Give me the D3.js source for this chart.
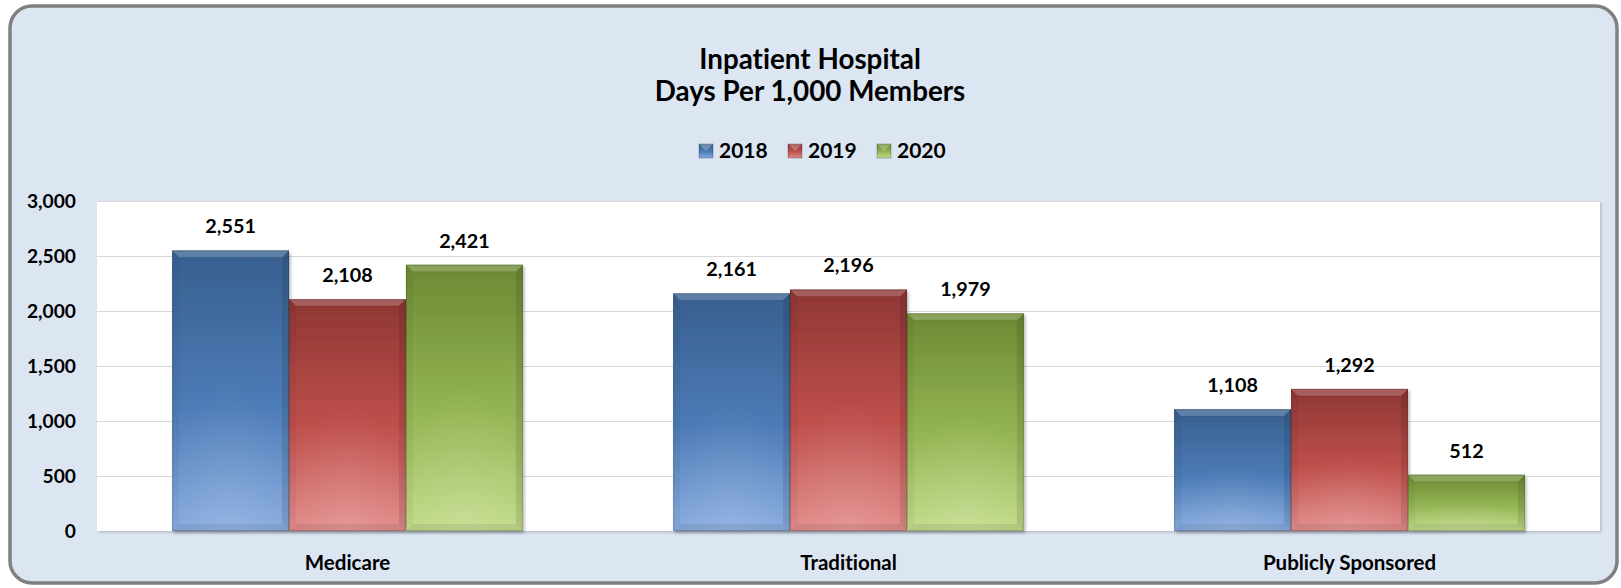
<!DOCTYPE html>
<html>
<head>
<meta charset="utf-8">
<script src="https://cdn.jsdelivr.net/npm/d3@7"></script>
<style>
  html, body { margin: 0; padding: 0; background: #ffffff; }
  svg { display: block; }
  text { font-family: Lato, "Open Sans", sans-serif; font-weight: 700; fill: #000;
         font-variant-ligatures: none; font-feature-settings: "liga" 0, "clig" 0; }
</style>
</head>
<body>
<svg id="chart" width="1621" height="588"></svg>
<script>
// Inpatient hospital days per 1,000 members, by line of business and year
const categories = ["Medicare", "Traditional", "Publicly Sponsored"];
const years = ["2018", "2019", "2020"];
const values2018 = [2551, 2161, 1108];
const values2019 = [2108, 2196, 1292];
const values2020 = [2421, 1979, 512];
const yTicks = [0, 500, 1000, 1500, 2000, 2500, 3000];
const titleLines = ["Inpatient Hospital", "Days Per 1,000 Members"];

const seriesValues = [values2018, values2019, values2020];

// colour ramps (top, middle, bottom) for each year's bars
const palette = {
  "2018": ["#385f8f", "#4c7bb6", "#88ace0"],
  "2019": ["#8e3634", "#bf504d", "#e28c8a"],
  "2020": ["#6c8a33", "#94b554", "#c3dc8a"]
};

const W = 1621, H = 588;
const plot = { left: 97, right: 1600, top: 201, bottom: 531 };

const svg = d3.select("#chart");
const defs = svg.append("defs");

// per-bar vertical gradients and bottom glow
years.forEach(yr => {
  const c = palette[yr];
  const g = defs.append("linearGradient")
    .attr("id", "grad" + yr).attr("x1", 0).attr("y1", 0).attr("x2", 0).attr("y2", 1);
  g.append("stop").attr("offset", "0%").attr("stop-color", c[0]);
  g.append("stop").attr("offset", "55%").attr("stop-color", c[1]);
  g.append("stop").attr("offset", "100%").attr("stop-color", c[2]);
});
const glow = defs.append("radialGradient").attr("id", "glow")
  .attr("cx", "50%").attr("cy", "100%").attr("r", "55%");
glow.append("stop").attr("offset", "0%").attr("stop-color", "#fff").attr("stop-opacity", 0.12);
glow.append("stop").attr("offset", "100%").attr("stop-color", "#fff").attr("stop-opacity", 0);

const shadow = defs.append("filter").attr("id", "shadow")
  .attr("x", "-5%").attr("y", "-5%").attr("width", "115%").attr("height", "115%");
shadow.append("feDropShadow").attr("dx", 1.5).attr("dy", 2).attr("stdDeviation", 1.5)
  .attr("flood-color", "#000").attr("flood-opacity", 0.3);

const plotShadow = defs.append("filter").attr("id", "plotShadow")
  .attr("x", "-2%").attr("y", "-2%").attr("width", "104%").attr("height", "106%");
plotShadow.append("feDropShadow").attr("dx", 1.5).attr("dy", 1.5).attr("stdDeviation", 1)
  .attr("flood-color", "#000").attr("flood-opacity", 0.18);

// chart frame
svg.append("rect")
  .attr("x", 10).attr("y", 6).attr("width", 1607).attr("height", 577)
  .attr("rx", 22).attr("ry", 22)
  .attr("fill", "#dce6f2").attr("stroke", "#808080").attr("stroke-width", 3.5);

// title
svg.append("text").attr("x", 810).attr("y", 69).attr("text-anchor", "middle")
  .style("font-size", "27.8px").text(titleLines[0]);
svg.append("text").attr("x", 810).attr("y", 101).attr("text-anchor", "middle")
  .style("font-size", "27.8px").text(titleLines[1]);

// scales
const x0 = d3.scaleBand().domain(categories).range([plot.left, plot.right])
  .paddingInner(0.3).paddingOuter(0.15);
const x1 = d3.scaleBand().domain(years).range([0, x0.bandwidth()]).padding(0);
const y = d3.scaleLinear().domain([0, 3000]).range([plot.bottom, plot.top]);

// plot area
svg.append("rect")
  .attr("x", plot.left).attr("y", plot.top)
  .attr("width", plot.right - plot.left).attr("height", plot.bottom - plot.top)
  .attr("fill", "#ffffff").attr("filter", "url(#plotShadow)");

// gridlines
svg.append("g").selectAll("line").data(yTicks.filter(t => t > 0)).join("line")
  .attr("x1", plot.left).attr("x2", plot.right)
  .attr("y1", d => Math.round(y(d)) + 0.5).attr("y2", d => Math.round(y(d)) + 0.5)
  .attr("stroke", "#d9d9d9").attr("stroke-width", 1.2);

// y axis labels
const yAxis = d3.axisLeft(y).tickValues(yTicks).tickFormat(d3.format(",")).tickSize(0).tickPadding(0);
const yg = svg.append("g").attr("transform", `translate(${plot.left - 21},0)`).call(yAxis);
yg.select(".domain").remove();
yg.selectAll("text")
  .style("font-family", "Lato, 'Open Sans', sans-serif").style("font-weight", 700)
  .style("font-size", "19.2px").attr("fill", "#000").attr("dy", "0.35em");

// bars
const bars = [];
categories.forEach((cat, ci) => {
  years.forEach((yr, si) => {
    bars.push({ cat, yr, value: seriesValues[si][ci] });
  });
});

const barG = svg.append("g");
const bevel = 7;
barG.selectAll("g.bar").data(bars).join("g").attr("class", "bar")
  .each(function (d) {
    const g = d3.select(this);
    const bx = x0(d.cat) + x1(d.yr);
    const bw = x1.bandwidth();
    const by = y(d.value);
    const bh = y(0) - by;
    const xl = bx, xr = bx + bw, yt = by, yb = by + bh;
    g.append("rect").attr("x", xl).attr("y", yt).attr("width", bw).attr("height", bh)
      .attr("fill", `url(#grad${d.yr})`).attr("filter", "url(#shadow)");
    g.append("rect").attr("x", xl).attr("y", yt).attr("width", bw).attr("height", bh)
      .attr("fill", "url(#glow)");
    // bevel faces
    const poly = pts => pts.map(p => p.join(",")).join(" ");
    g.append("polygon").attr("points", poly([[xl, yt], [xr, yt], [xr - bevel, yt + bevel], [xl + bevel, yt + bevel]]))
      .attr("fill", "#ffffff").attr("fill-opacity", 0.2);
    g.append("line").attr("x1", xl + bevel).attr("x2", xr - bevel)
      .attr("y1", yt + bevel).attr("y2", yt + bevel)
      .attr("stroke", "#000").attr("stroke-opacity", 0.1).attr("stroke-width", 1);
    g.append("polygon").attr("points", poly([[xl, yt], [xl + bevel, yt + bevel], [xl + bevel, yb - bevel], [xl, yb]]))
      .attr("fill", "#000").attr("fill-opacity", 0.04);
    g.append("polygon").attr("points", poly([[xr, yt], [xr - bevel, yt + bevel], [xr - bevel, yb - bevel], [xr, yb]]))
      .attr("fill", "#000").attr("fill-opacity", 0.1);
    g.append("polygon").attr("points", poly([[xl, yb], [xl + bevel, yb - bevel], [xr - bevel, yb - bevel], [xr, yb]]))
      .attr("fill", "#000").attr("fill-opacity", 0.08);
    g.append("rect").attr("x", xl + 0.5).attr("y", yt + 0.5).attr("width", bw - 1).attr("height", bh - 1)
      .attr("fill", "none").attr("stroke", "#000").attr("stroke-opacity", 0.18);
    // value label
    g.append("text").attr("x", bx + bw / 2).attr("y", by - 17)
      .attr("text-anchor", "middle").style("font-size", "19.8px")
      .text(d3.format(",")(d.value));
  });

// category labels
svg.append("g").selectAll("text").data(categories).join("text")
  .attr("x", d => x0(d) + x0.bandwidth() / 2).attr("y", 570)
  .attr("text-anchor", "middle").style("font-size", "20.5px").text(d => d);

// legend
const legendItems = [
  { yr: "2018", sx: 699, tx: 719 },
  { yr: "2019", sx: 788, tx: 808 },
  { yr: "2020", sx: 877, tx: 897 }
];
const lg = svg.append("g");
legendItems.forEach(it => {
  const s = 14, sy = 144;
  lg.append("rect").attr("x", it.sx).attr("y", sy).attr("width", s).attr("height", s)
    .attr("fill", `url(#grad${it.yr})`).attr("stroke", "#000").attr("stroke-opacity", 0.25);
  lg.append("polygon")
    .attr("points", `${it.sx},${sy} ${it.sx + s},${sy} ${it.sx + s / 2},${sy + s / 2}`)
    .attr("fill", "#fff").attr("fill-opacity", 0.25);
  lg.append("text").attr("x", it.tx).attr("y", 158).style("font-size", "21px").text(it.yr);
});
</script>
</body>
</html>
